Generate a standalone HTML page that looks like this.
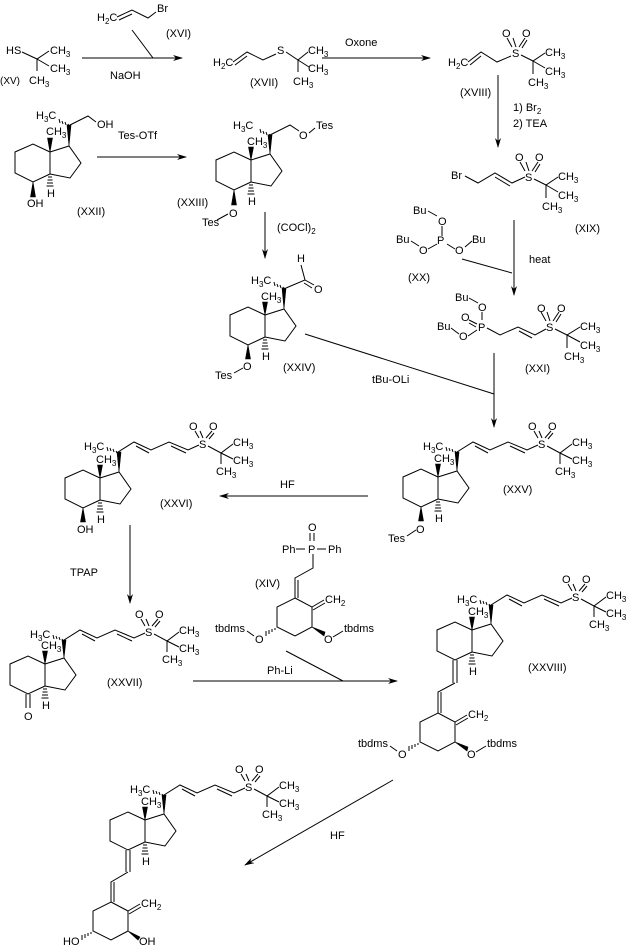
<!DOCTYPE html>
<html><head><meta charset="utf-8"><style>
html,body{margin:0;padding:0;background:#fff;}
svg{display:block;}
text{font-family:"Liberation Sans",Arial,sans-serif;font-size:11px;fill:#000;}
.s{font-size:8px;}
.l{stroke:#000;stroke-width:1;fill:none;}
.f{fill:#000;stroke:#000;stroke-width:0.6;}
</style></head><body>
<svg width="631" height="951" viewBox="0 0 631 951" xmlns="http://www.w3.org/2000/svg">
<defs><marker id="a" markerWidth="10" markerHeight="6" refX="9" refY="3" orient="auto" markerUnits="userSpaceOnUse"><path d="M0,0L10,3L0,6L3,3Z" fill="#000"/></marker></defs>

<!-- ===== Top row ===== -->
<text x="6" y="54">HS</text>
<path class="l" d="M22,52L37,59L49,51M37,59L49,66M37,59V71"/>
<text x="50" y="54">CH<tspan class="s" dy="3">3</tspan></text>
<text x="50" y="72">CH<tspan class="s" dy="3">3</tspan></text>
<text x="29" y="84">CH<tspan class="s" dy="3">3</tspan></text>
<text x="0" y="84" style="font-size:10px">(XV)</text>

<path class="l" d="M82,58H182" marker-end="url(#a)"/>
<text x="110" y="79">NaOH</text>
<text x="97" y="21">H<tspan class="s" dy="3">2</tspan><tspan dy="-3">C</tspan></text>
<path class="l" d="M117,17L132,10L148,18L156,12M119,20L132,14"/>
<text x="157" y="12">Br</text>
<text x="166" y="37">(XVI)</text>
<path class="l" d="M132,30L153,58"/>

<text x="213" y="66">H<tspan class="s" dy="3">2</tspan><tspan dy="-3">C</tspan></text>
<path class="l" d="M233,62L247,52L263,60L276,54M235,65L247,56"/>
<text x="277" y="54">S</text>
<path class="l" d="M286,52L298,60L308,52M298,60L309,67M298,60V72"/>
<text x="308" y="54">CH<tspan class="s" dy="3">3</tspan></text>
<text x="308" y="72">CH<tspan class="s" dy="3">3</tspan></text>
<text x="293" y="85">CH<tspan class="s" dy="3">3</tspan></text>
<text x="250" y="86">(XVII)</text>

<path class="l" d="M322,58H430" marker-end="url(#a)"/>
<text x="345" y="46">Oxone</text>

<text x="448" y="66">H<tspan class="s" dy="3">2</tspan><tspan dy="-3">C</tspan></text>
<path class="l" d="M468,62L481,52L497,62L511,56M470,65L481,56"/>
<text x="512" y="57">S</text>
<path class="l" d="M512,47L507,38M516,47L513,38M519,47L525,38M522,48L527,40"/>
<text x="502" y="37">O</text><text x="522" y="37">O</text>
<path class="l" d="M521,55L533,61L545,53M533,61L545,68M533,61V74"/>
<text x="545" y="56">CH<tspan class="s" dy="3">3</tspan></text>
<text x="545" y="75">CH<tspan class="s" dy="3">3</tspan></text>
<text x="528" y="86">CH<tspan class="s" dy="3">3</tspan></text>
<text x="460" y="96">(XVIII)</text>

<path class="l" d="M498,75V147" marker-end="url(#a)"/>
<text x="513" y="111">1) Br<tspan class="s" dy="3">2</tspan></text>
<text x="513" y="127">2) TEA</text>

<text x="451" y="179">Br</text>
<path class="l" d="M465,176L478,183L495,173L512,183L525,177M495,177L510,186"/>
<text x="525" y="181">S</text>
<path class="l" d="M525,171L520,162M529,171L526,162M532,171L538,162M535,172L540,164"/>
<text x="515" y="161">O</text><text x="535" y="161">O</text>
<path class="l" d="M534,179L546,185L558,177M546,185L558,192M546,185V198"/>
<text x="558" y="180">CH<tspan class="s" dy="3">3</tspan></text>
<text x="558" y="199">CH<tspan class="s" dy="3">3</tspan></text>
<text x="542" y="210">CH<tspan class="s" dy="3">3</tspan></text>
<text x="575" y="232">(XIX)</text>

<!-- XX -->
<text x="413" y="214">Bu</text>
<path class="l" d="M428,211L437,216M442,226V236"/>
<text x="438" y="225">O</text>
<text x="437" y="244">P</text>
<text x="396" y="243">Bu</text>
<path class="l" d="M411,241L419,246M428,249L437,244M447,244L455,249M465,247L472,241"/>
<text x="419" y="254">O</text>
<text x="455" y="254">O</text>
<text x="472" y="243">Bu</text>
<text x="408" y="281">(XX)</text>
<path class="l" d="M462,259L512,273"/>
<path class="l" d="M514,220V295" marker-end="url(#a)"/>
<text x="529" y="263">heat</text>

<!-- XXI -->
<text x="455" y="301">Bu</text>
<path class="l" d="M469,298L478,303M482,312V320"/>
<text x="478" y="311">O</text>
<text x="478" y="331">P</text>
<text x="461" y="321">O</text>
<path class="l" d="M469,320L477,324M469,323L476,327"/>
<text x="437" y="330">Bu</text>
<path class="l" d="M451,328L459,334M468,336L477,330"/>
<text x="459" y="340">O</text>
<path class="l" d="M487,328L500,335L518,327L535,335L546,329M519,331L532,338"/>
<text x="546" y="331">S</text>
<path class="l" d="M546,321L541,312M550,321L547,312M553,321L559,312M556,322L561,314"/>
<text x="537" y="312">O</text><text x="557" y="312">O</text>
<path class="l" d="M555,329L567,335L580,327M567,335L580,342M567,335V348"/>
<text x="580" y="330">CH<tspan class="s" dy="3">3</tspan></text>
<text x="580" y="349">CH<tspan class="s" dy="3">3</tspan></text>
<text x="564" y="360">CH<tspan class="s" dy="3">3</tspan></text>
<text x="525" y="372">(XXI)</text>

<path class="l" d="M494,353V427" marker-end="url(#a)"/>
<path class="l" d="M305,334L494,394"/>
<text x="372" y="383">tBu-OLi</text>

<!-- ===== XXII ===== -->
<g transform="translate(50,152)">
<polygon class="l" points="0,0 -17,-8 -35,0 -35,21 -17,30 0,22"/>
<polyline class="l" points="0,0 19,-6 31,11 20,26 0,22"/>
<polygon class="f" points="0,0 -2.5,-14 2.5,-14"/>
<polygon class="f" points="19,-6 17,-27 21,-27"/>
<path class="l" d="M-2,25h4M-2.5,28h5M-3,31h6M-3.5,34h7"/>
<text x="-3" y="45">H</text>
<text x="-4" y="-17">CH<tspan class="s" dy="3">3</tspan></text>
<polygon class="f" points="-17,30 -19.5,45 -14.5,45"/>
<text x="-23" y="55">OH</text>
<path class="l" d="M18,-28l1,2M15,-30l1,3M12,-31l1,3M9,-33l1,4"/>
<text x="-14" y="-33">H<tspan class="s" dy="3">3</tspan><tspan dy="-3">C</tspan></text>
<path class="l" d="M20,-27L38,-36L46,-30"/>
<text x="47" y="-24">OH</text>
</g>
<path class="l" d="M97,157H186" marker-end="url(#a)"/>
<text x="118" y="139">Tes-OTf</text>
<text x="77" y="215">(XXII)</text>

<!-- ===== XXIII ===== -->
<g transform="translate(251,160)">
<polygon class="l" points="0,0 -17,-8 -35,0 -35,21 -17,30 0,22"/>
<polyline class="l" points="0,0 19,-6 31,11 20,26 0,22"/>
<polygon class="f" points="0,0 -2.5,-13 2.5,-13"/>
<polygon class="f" points="19,-6 17,-25 21,-25"/>
<path class="l" d="M-2,25h4M-2.5,28h5M-3,31h6M-3.5,34h7"/>
<text x="-3" y="45">H</text>
<text x="-4" y="-15">CH<tspan class="s" dy="3">3</tspan></text>
<polygon class="f" points="-17,30 -19.5,45 -14.5,45"/>
<text x="-22" y="57">O</text>
<path class="l" d="M-23,54L-34,60"/>
<text x="-49" y="66">Tes</text>
<path class="l" d="M18,-26l1,2M15,-28l1,3M12,-29l1,3M9,-31l1,4"/>
<text x="-18" y="-31">H<tspan class="s" dy="3">3</tspan><tspan dy="-3">C</tspan></text>
<path class="l" d="M19,-25L39,-35L48,-29M58,-27L64,-32"/>
<text x="48" y="-21">O</text>
<text x="65" y="-31">Tes</text>
</g>
<text x="177" y="206">(XXIII)</text>
<path class="l" d="M265,212V258" marker-end="url(#a)"/>
<text x="277" y="231">(COCl)<tspan class="s" dy="3">2</tspan></text>

<!-- ===== XXIV ===== -->
<g transform="translate(265,315)">
<polygon class="l" points="0,0 -17,-8 -35,0 -35,21 -17,30 0,22"/>
<polyline class="l" points="0,0 19,-6 31,11 20,26 0,22"/>
<polygon class="f" points="0,0 -2.5,-13 2.5,-13"/>
<polygon class="f" points="19,-6 17,-27 21,-27"/>
<path class="l" d="M-2,25h4M-2.5,28h5M-3,31h6M-3.5,34h7"/>
<text x="-3" y="45">H</text>
<text x="-4" y="-15">CH<tspan class="s" dy="3">3</tspan></text>
<polygon class="f" points="-17,30 -19.5,44 -14.5,44"/>
<text x="-22" y="55">O</text>
<path class="l" d="M-22,53L-31,58"/>
<text x="-50" y="64">Tes</text>
<path class="l" d="M18,-28l1,2M15,-30l1,3M12,-31l1,3M9,-33l1,4"/>
<text x="-14" y="-31">H<tspan class="s" dy="3">3</tspan><tspan dy="-3">C</tspan></text>
<path class="l" d="M21,-27L40,-35L36,-50M40,-35L49,-30M39,-32L47,-27"/>
<text x="32" y="-53">H</text>
<text x="49" y="-22">O</text>
</g>
<text x="283" y="371">(XXIV)</text>

<!-- ===== XXV ===== -->
<g transform="translate(438,477)">
<polygon class="l" points="0,0 -17,-8 -35,0 -35,21 -17,30 0,22"/>
<polyline class="l" points="0,0 19,-6 31,11 20,26 0,22"/>
<polygon class="f" points="0,0 -2.5,-13 2.5,-13"/>
<polygon class="f" points="19,-6 17,-25 21,-25"/>
<path class="l" d="M-2,25h4M-2.5,28h5M-3,31h6M-3.5,34h7"/>
<text x="-3" y="45">H</text>
<text x="-4" y="-15">CH<tspan class="s" dy="3">3</tspan></text>
<polygon class="f" points="-17,30 -19.5,44 -14.5,44"/>
<text x="-22" y="56">O</text>
<path class="l" d="M-22,53L-31,59"/>
<text x="-50" y="65">Tes</text>
<g transform="translate(19,-25)">
<path class="l" d="M-2,-1l1,2M-5,-3l1,3M-8,-4l1,3M-11,-5l1,4"/>
<text x="-34" y="-2">H<tspan class="s" dy="3">3</tspan><tspan dy="-3">C</tspan></text>
<polyline class="l" points="0,0 16,-10 33,-2 51,-10 70,-2 81,-7"/>
<path class="l" d="M18,-6L31,1M53,-6L68,1"/>
<text x="81" y="-4">S</text>
<path class="l" d="M81,-14L77,-21M85,-14L82,-21M88,-14L94,-21M91,-13L96,-19"/>
<text x="71" y="-22">O</text><text x="91" y="-22">O</text>
<path class="l" d="M90,-6L103,1L115,-8M103,1L115,7M103,1V12"/>
<text x="115" y="-6">CH<tspan class="s" dy="3">3</tspan></text>
<text x="115" y="12">CH<tspan class="s" dy="3">3</tspan></text>
<text x="98" y="23">CH<tspan class="s" dy="3">3</tspan></text>
</g>
</g>
<text x="503" y="493">(XXV)</text>

<path class="l" d="M368,496H220" marker-end="url(#a)"/>
<text x="280" y="488">HF</text>

<!-- ===== XXVI ===== -->
<g transform="translate(100,478)">
<polygon class="l" points="0,0 -17,-8 -35,0 -35,21 -17,30 0,22"/>
<polyline class="l" points="0,0 19,-6 31,11 20,26 0,22"/>
<polygon class="f" points="0,0 -2.5,-13 2.5,-13"/>
<polygon class="f" points="19,-6 17,-26 21,-26"/>
<path class="l" d="M-2,25h4M-2.5,28h5M-3,31h6M-3.5,34h7"/>
<text x="-3" y="45">H</text>
<text x="-4" y="-15">CH<tspan class="s" dy="3">3</tspan></text>
<polygon class="f" points="-17,30 -19.5,44 -14.5,44"/>
<text x="-23" y="55">OH</text>
<g transform="translate(18,-26)">
<path class="l" d="M-2,-1l1,2M-5,-3l1,3M-8,-4l1,3M-11,-5l1,4"/>
<text x="-34" y="-2">H<tspan class="s" dy="3">3</tspan><tspan dy="-3">C</tspan></text>
<polyline class="l" points="0,0 16,-10 33,-2 51,-10 70,-2 81,-7"/>
<path class="l" d="M18,-6L31,1M53,-6L68,1"/>
<text x="81" y="-4">S</text>
<path class="l" d="M81,-14L77,-21M85,-14L82,-21M88,-14L94,-21M91,-13L96,-19"/>
<text x="71" y="-22">O</text><text x="91" y="-22">O</text>
<path class="l" d="M90,-6L103,1L115,-8M103,1L115,7M103,1V12"/>
<text x="115" y="-6">CH<tspan class="s" dy="3">3</tspan></text>
<text x="115" y="12">CH<tspan class="s" dy="3">3</tspan></text>
<text x="98" y="23">CH<tspan class="s" dy="3">3</tspan></text>
</g>
</g>
<text x="160" y="507">(XXVI)</text>

<path class="l" d="M130,525V603" marker-end="url(#a)"/>
<text x="70" y="576">TPAP</text>

<!-- ===== XXVII ===== -->
<g transform="translate(45,664)">
<polygon class="l" points="0,0 -17,-8 -35,0 -35,21 -17,30 0,22"/>
<polyline class="l" points="0,0 19,-6 31,11 20,26 0,22"/>
<polygon class="f" points="0,0 -2.5,-13 2.5,-13"/>
<polygon class="f" points="19,-6 17,-24 21,-24"/>
<path class="l" d="M-2,25h4M-2.5,28h5M-3,31h6M-3.5,34h7"/>
<text x="-3" y="45">H</text>
<text x="-4" y="-15">CH<tspan class="s" dy="3">3</tspan></text>
<path class="l" d="M-19,30V44M-15,30V44"/>
<text x="-21" y="56">O</text>
<g transform="translate(19,-24)">
<path class="l" d="M-2,-1l1,2M-5,-3l1,3M-8,-4l1,3M-11,-5l1,4"/>
<text x="-34" y="-2">H<tspan class="s" dy="3">3</tspan><tspan dy="-3">C</tspan></text>
<polyline class="l" points="0,0 16,-10 33,-2 51,-10 70,-2 81,-7"/>
<path class="l" d="M18,-6L31,1M53,-6L68,1"/>
<text x="81" y="-4">S</text>
<path class="l" d="M81,-14L77,-21M85,-14L82,-21M88,-14L94,-21M91,-13L96,-19"/>
<text x="71" y="-22">O</text><text x="91" y="-22">O</text>
<path class="l" d="M90,-6L103,1L115,-8M103,1L115,7M103,1V12"/>
<text x="115" y="-6">CH<tspan class="s" dy="3">3</tspan></text>
<text x="115" y="12">CH<tspan class="s" dy="3">3</tspan></text>
<text x="98" y="23">CH<tspan class="s" dy="3">3</tspan></text>
</g>
</g>
<text x="107" y="686">(XXVII)</text>

<!-- ===== XIV ===== -->
<text x="308" y="531">O</text>
<path class="l" d="M310,533V541M314,533V541"/>
<text x="308" y="553">P</text>
<text x="282" y="553">Ph</text>
<text x="328" y="553">Ph</text>
<path class="l" d="M296,549H305M317,549H326M313,554V568L295,578V598M298,580V598"/>
<text x="255" y="587">(XIV)</text>
<g transform="translate(295,598)">
<polygon class="l" points="0,0 17,9 17,29 0,38 -18,29 -18,9"/>
<path class="l" d="M17,9L29,2M18,12L30,5"/>
<text x="30" y="5">CH<tspan class="s" dy="3">2</tspan></text>
<polygon class="f" points="17,29 30,34 29,38"/>
<text x="29" y="45">O</text>
<path class="l" d="M38,39L48,33"/>
<text x="49" y="34">tbdms</text>
<path class="l" d="M-20,30v2M-23,31v3M-26,32v4M-29,33v5"/>
<text x="-40" y="45">O</text>
<path class="l" d="M-41,38L-48,33"/>
<text x="-80" y="34">tbdms</text>
</g>
<path class="l" d="M193,681H397" marker-end="url(#a)"/>
<path class="l" d="M286,651L343,681"/>
<text x="267" y="674">Ph-Li</text>

<!-- ===== XXVIII ===== -->
<g transform="translate(472,630)">
<polygon class="l" points="0,0 -17,-8 -35,0 -35,21 -17,30 0,22"/>
<polyline class="l" points="0,0 19,-6 31,11 20,26 0,22"/>
<polygon class="f" points="0,0 -2.5,-13 2.5,-13"/>
<polygon class="f" points="19,-6 17,-25 21,-25"/>
<path class="l" d="M-2,25h4M-2.5,28h5M-3,31h6M-3.5,34h7"/>
<text x="-3" y="45">H</text>
<text x="-4" y="-15">CH<tspan class="s" dy="3">3</tspan></text>
<path class="l" d="M-19,30V53M-15,30V53M-17,53L-34,62V83M-31,62V83"/>
<g transform="translate(19,-25)">
<path class="l" d="M-2,-1l1,2M-5,-3l1,3M-8,-4l1,3M-11,-5l1,4"/>
<text x="-34" y="-2">H<tspan class="s" dy="3">3</tspan><tspan dy="-3">C</tspan></text>
<polyline class="l" points="0,0 16,-10 33,-2 51,-10 70,-2 81,-7"/>
<path class="l" d="M18,-6L31,1M53,-6L68,1"/>
<text x="81" y="-4">S</text>
<path class="l" d="M81,-14L77,-21M85,-14L82,-21M88,-14L94,-21M91,-13L96,-19"/>
<text x="71" y="-22">O</text><text x="91" y="-22">O</text>
<path class="l" d="M90,-6L103,1L115,-8M103,1L115,7M103,1V12"/>
<text x="115" y="-6">CH<tspan class="s" dy="3">3</tspan></text>
<text x="115" y="12">CH<tspan class="s" dy="3">3</tspan></text>
<text x="98" y="23">CH<tspan class="s" dy="3">3</tspan></text>
</g>
</g>
<g transform="translate(438,713)">
<polygon class="l" points="0,0 17,9 17,29 0,38 -18,29 -18,9"/>
<path class="l" d="M17,9L29,2M18,12L30,5"/>
<text x="30" y="5">CH<tspan class="s" dy="3">2</tspan></text>
<polygon class="f" points="17,29 30,34 29,38"/>
<text x="29" y="45">O</text>
<path class="l" d="M38,39L48,33"/>
<text x="49" y="34">tbdms</text>
<path class="l" d="M-20,30v2M-23,31v3M-26,32v4M-29,33v5"/>
<text x="-40" y="45">O</text>
<path class="l" d="M-41,38L-48,33"/>
<text x="-80" y="34">tbdms</text>
</g>
<text x="528" y="671">(XXVIII)</text>

<path class="l" d="M393,780L245,865" marker-end="url(#a)"/>
<text x="330" y="839">HF</text>

<!-- ===== Final ===== -->
<g transform="translate(145,820)">
<polygon class="l" points="0,0 -17,-8 -35,0 -35,21 -17,30 0,22"/>
<polyline class="l" points="0,0 19,-6 31,11 20,26 0,22"/>
<polygon class="f" points="0,0 -2.5,-13 2.5,-13"/>
<polygon class="f" points="19,-6 17,-25 21,-25"/>
<path class="l" d="M-2,25h4M-2.5,28h5M-3,31h6M-3.5,34h7"/>
<text x="-3" y="45">H</text>
<text x="-4" y="-15">CH<tspan class="s" dy="3">3</tspan></text>
<path class="l" d="M-19,30V52M-15,30V52M-17,52L-34,62V82M-31,62V82"/>
<g transform="translate(19,-25)">
<path class="l" d="M-2,-1l1,2M-5,-3l1,3M-8,-4l1,3M-11,-5l1,4"/>
<text x="-34" y="-2">H<tspan class="s" dy="3">3</tspan><tspan dy="-3">C</tspan></text>
<polyline class="l" points="0,0 16,-10 33,-2 51,-10 70,-2 81,-7"/>
<path class="l" d="M18,-6L31,1M53,-6L68,1"/>
<text x="81" y="-4">S</text>
<path class="l" d="M81,-14L77,-21M85,-14L82,-21M88,-14L94,-21M91,-13L96,-19"/>
<text x="71" y="-22">O</text><text x="91" y="-22">O</text>
<path class="l" d="M90,-6L103,1L115,-8M103,1L115,7M103,1V12"/>
<text x="115" y="-6">CH<tspan class="s" dy="3">3</tspan></text>
<text x="115" y="12">CH<tspan class="s" dy="3">3</tspan></text>
<text x="98" y="23">CH<tspan class="s" dy="3">3</tspan></text>
</g>
</g>
<g transform="translate(111,902)">
<polygon class="l" points="0,0 17,9 17,29 0,38 -18,29 -18,9"/>
<path class="l" d="M17,9L29,2M18,12L30,5"/>
<text x="30" y="5">CH<tspan class="s" dy="3">2</tspan></text>
<polygon class="f" points="17,29 29,35 27,38"/>
<text x="28" y="43">OH</text>
<path class="l" d="M-20,30v2M-23,31v3M-26,32v4M-29,33v5"/>
<text x="-48" y="43">HO</text>
</g>
</svg>
</body></html>
